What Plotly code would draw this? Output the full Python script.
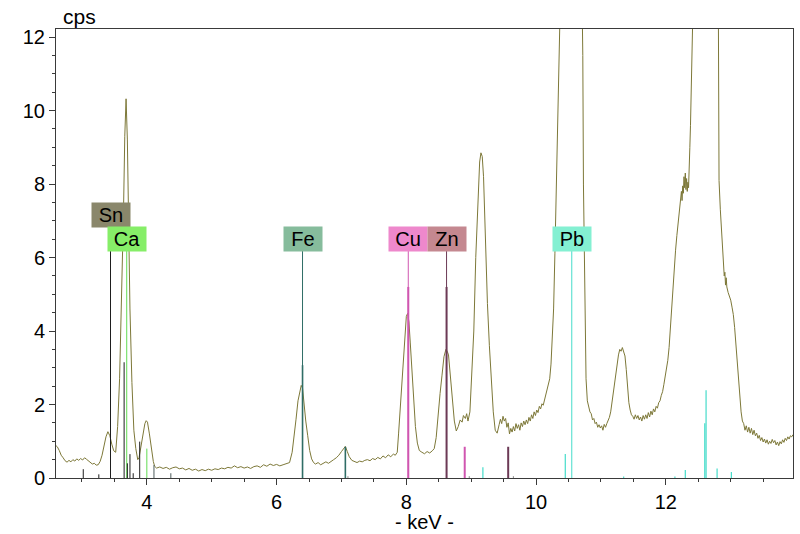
import plotly.graph_objects as go

# ---------------- data ----------------
# XRF spectrum: (energy keV, counts per second)
spectrum_points = [
    (2.60, 0.88), (2.62, 0.85), (2.65, 0.75), (2.68, 0.62), (2.71, 0.55), (2.74, 0.47), (2.77, 0.43),
    (2.80, 0.48), (2.83, 0.44), (2.86, 0.50), (2.89, 0.46), (2.92, 0.52), (2.95, 0.48), (2.98, 0.53),
    (3.01, 0.49), (3.04, 0.55), (3.07, 0.51), (3.10, 0.47), (3.13, 0.42), (3.16, 0.38), (3.19, 0.40),
    (3.22, 0.35), (3.25, 0.36), (3.28, 0.45), (3.31, 0.62), (3.34, 0.90), (3.37, 1.12), (3.40, 1.26),
    (3.43, 1.15), (3.46, 0.92), (3.49, 0.74), (3.52, 0.70), (3.55, 1.40), (3.58, 2.70), (3.60, 4.00),
    (3.62, 5.40), (3.64, 7.20), (3.66, 9.30), (3.68, 10.32), (3.70, 9.20), (3.72, 6.80), (3.74, 4.60),
    (3.77, 2.60), (3.80, 1.30), (3.83, 0.80), (3.86, 0.50), (3.88, 0.55), (3.91, 0.90), (3.94, 1.25),
    (3.97, 1.48), (3.99, 1.56), (4.01, 1.52), (4.04, 1.20), (4.07, 0.80), (4.10, 0.45), (4.12, 0.32),
    (4.15, 0.27), (4.20, 0.30), (4.25, 0.26), (4.30, 0.29), (4.35, 0.24), (4.40, 0.28), (4.45, 0.30),
    (4.50, 0.25), (4.55, 0.27), (4.60, 0.22), (4.65, 0.26), (4.70, 0.21), (4.75, 0.24), (4.80, 0.19),
    (4.85, 0.23), (4.90, 0.20), (4.95, 0.24), (5.00, 0.21), (5.05, 0.25), (5.10, 0.23), (5.15, 0.27),
    (5.20, 0.25), (5.25, 0.29), (5.30, 0.27), (5.35, 0.33), (5.40, 0.28), (5.45, 0.31), (5.50, 0.27),
    (5.55, 0.30), (5.60, 0.26), (5.65, 0.31), (5.70, 0.33), (5.75, 0.29), (5.80, 0.36), (5.85, 0.32),
    (5.90, 0.38), (5.95, 0.34), (6.00, 0.37), (6.05, 0.33), (6.10, 0.36), (6.15, 0.40), (6.20, 0.42),
    (6.24, 0.70), (6.27, 1.10), (6.30, 1.60), (6.33, 2.10), (6.36, 2.40), (6.38, 2.52), (6.40, 2.45),
    (6.42, 2.00), (6.45, 1.55), (6.48, 1.15), (6.51, 0.75), (6.54, 0.52), (6.57, 0.42), (6.60, 0.38),
    (6.64, 0.42), (6.68, 0.36), (6.72, 0.40), (6.76, 0.44), (6.80, 0.40), (6.84, 0.46), (6.88, 0.50),
    (6.92, 0.55), (6.96, 0.62), (7.00, 0.72), (7.04, 0.82), (7.06, 0.86), (7.09, 0.72), (7.12, 0.58),
    (7.16, 0.48), (7.20, 0.44), (7.24, 0.42), (7.28, 0.46), (7.32, 0.44), (7.36, 0.48), (7.40, 0.50),
    (7.44, 0.47), (7.48, 0.53), (7.52, 0.50), (7.56, 0.56), (7.60, 0.52), (7.64, 0.60), (7.68, 0.55),
    (7.72, 0.63), (7.76, 0.58), (7.80, 0.65), (7.83, 0.62), (7.86, 0.70), (7.88, 1.20), (7.91, 2.00),
    (7.94, 2.90), (7.97, 3.80), (8.00, 4.40), (8.02, 4.48), (8.04, 4.25), (8.06, 3.70), (8.08, 3.10),
    (8.10, 2.40), (8.12, 1.90), (8.14, 1.40), (8.17, 0.95), (8.20, 0.75), (8.24, 0.70), (8.28, 0.66),
    (8.32, 0.72), (8.36, 0.68), (8.40, 0.74), (8.43, 0.80), (8.46, 1.10), (8.49, 1.75), (8.52, 2.30),
    (8.55, 2.80), (8.58, 3.30), (8.61, 3.50), (8.63, 3.45), (8.65, 3.35), (8.68, 2.70), (8.71, 2.10),
    (8.74, 1.55), (8.77, 1.28), (8.80, 1.40), (8.83, 1.58), (8.86, 1.52), (8.88, 1.70), (8.91, 1.62),
    (8.93, 1.75), (8.95, 1.55), (8.98, 1.80), (9.01, 2.90), (9.04, 4.00), (9.07, 6.00), (9.10, 7.60),
    (9.13, 8.60), (9.15, 8.85), (9.17, 8.75), (9.19, 8.20), (9.21, 7.00), (9.23, 5.90), (9.25, 4.75),
    (9.28, 3.60), (9.31, 2.70), (9.34, 1.80), (9.37, 1.30), (9.40, 1.22), (9.43, 1.45), (9.45, 1.60),
    (9.47, 1.48), (9.49, 1.68), (9.51, 1.55), (9.53, 1.62), (9.55, 1.38), (9.57, 1.50), (9.59, 1.20),
    (9.61, 1.35), (9.63, 1.25), (9.65, 1.40), (9.67, 1.28), (9.69, 1.48), (9.71, 1.35), (9.73, 1.45),
    (9.75, 1.30), (9.77, 1.50), (9.79, 1.40), (9.81, 1.55), (9.83, 1.45), (9.85, 1.58), (9.87, 1.48),
    (9.89, 1.65), (9.91, 1.55), (9.93, 1.72), (9.95, 1.62), (9.97, 1.80), (9.99, 1.70), (10.01, 1.85),
    (10.03, 1.78), (10.05, 1.95), (10.07, 1.88), (10.09, 2.02), (10.11, 1.98), (10.13, 2.12),
    (10.15, 2.25), (10.17, 2.35), (10.19, 2.50), (10.21, 2.70), (10.23, 3.10), (10.25, 3.70),
    (10.27, 4.60), (10.29, 6.10), (10.30, 7.40), (10.31, 8.90), (10.32, 11.0), (10.34, 14.0),
    (10.40, 18.0), (10.47, 21.0), (10.55, 22.0), (10.62, 21.0), (10.68, 17.0), (10.71, 13.0),
    (10.72, 11.5), (10.73, 8.00), (10.75, 4.30), (10.77, 2.70), (10.79, 2.10), (10.81, 1.95),
    (10.83, 1.80), (10.85, 1.75), (10.87, 1.58), (10.89, 1.62), (10.91, 1.48), (10.93, 1.52),
    (10.95, 1.38), (10.97, 1.45), (10.99, 1.36), (11.01, 1.42), (11.03, 1.30), (11.05, 1.46),
    (11.07, 1.38), (11.09, 1.48), (11.11, 1.55), (11.13, 1.65), (11.15, 1.80), (11.17, 2.05),
    (11.19, 2.35), (11.21, 2.65), (11.23, 2.95), (11.25, 3.15), (11.27, 3.35), (11.29, 3.50),
    (11.31, 3.45), (11.33, 3.55), (11.35, 3.40), (11.37, 3.32), (11.39, 2.95), (11.41, 2.45),
    (11.43, 2.05), (11.45, 1.85), (11.47, 1.72), (11.49, 1.68), (11.51, 1.60), (11.53, 1.72),
    (11.55, 1.62), (11.57, 1.70), (11.59, 1.58), (11.61, 1.66), (11.63, 1.55), (11.65, 1.70),
    (11.67, 1.60), (11.69, 1.72), (11.71, 1.62), (11.73, 1.78), (11.75, 1.66), (11.77, 1.82),
    (11.79, 1.72), (11.81, 1.88), (11.83, 1.80), (11.85, 1.95), (11.87, 1.90), (11.89, 2.05),
    (11.91, 2.10), (11.93, 2.25), (11.95, 2.35), (11.97, 2.55), (11.99, 2.75), (12.01, 2.90),
    (12.03, 3.20), (12.05, 3.55), (12.07, 4.10), (12.09, 4.80), (12.11, 5.40), (12.13, 5.80),
    (12.15, 6.20), (12.17, 6.60), (12.19, 6.90), (12.21, 7.30), (12.23, 7.55), (12.24, 7.80),
    (12.25, 7.55), (12.26, 7.95), (12.27, 7.75), (12.28, 8.20), (12.29, 7.90), (12.30, 8.30),
    (12.31, 7.85), (12.32, 8.15), (12.33, 7.80), (12.34, 8.05), (12.35, 7.90), (12.36, 8.30),
    (12.37, 9.00), (12.38, 9.60), (12.39, 10.8), (12.40, 12.5), (12.45, 15.5), (12.52, 17.5),
    (12.60, 18.5), (12.68, 17.5), (12.75, 15.5), (12.81, 12.5), (12.82, 8.10), (12.84, 7.30),
    (12.86, 6.66), (12.88, 6.00), (12.90, 5.50), (12.91, 5.60), (12.92, 5.25), (12.93, 5.45),
    (12.94, 5.20), (12.96, 5.05), (12.98, 4.95), (13.00, 4.84), (13.02, 4.65), (13.04, 4.45),
    (13.06, 4.10), (13.08, 3.65), (13.10, 3.20), (13.12, 2.60), (13.14, 2.10), (13.16, 1.80),
    (13.18, 1.55), (13.20, 1.48), (13.22, 1.30), (13.24, 1.42), (13.26, 1.25), (13.28, 1.38),
    (13.30, 1.22), (13.32, 1.35), (13.34, 1.18), (13.36, 1.30), (13.38, 1.15), (13.40, 1.22),
    (13.42, 1.08), (13.44, 1.16), (13.46, 1.02), (13.48, 1.10), (13.50, 0.98), (13.52, 1.06),
    (13.54, 0.95), (13.56, 1.04), (13.58, 0.92), (13.60, 1.00), (13.62, 0.94), (13.64, 1.05),
    (13.66, 0.96), (13.68, 1.02), (13.70, 0.90), (13.72, 0.98), (13.74, 0.88), (13.76, 0.99),
    (13.78, 0.93), (13.80, 1.04), (13.82, 0.97), (13.84, 1.08), (13.86, 1.02), (13.88, 1.12),
    (13.90, 1.06), (13.92, 1.15), (13.94, 1.12), (13.96, 1.18),
]
energy_kev = [p[0] for p in spectrum_points]
counts_cps = [p[1] for p in spectrum_points]

# identified elements: label line energy
elements = ["Sn", "Ca", "Fe", "Cu", "Zn", "Pb"]
label_energy = [3.44, 3.69, 6.40, 8.03, 8.62, 10.55]
label_line_top = 6.18

# emission-line sticks (energy keV, relative height in cps units)
sn_lines_e = [3.02, 3.26, 3.65, 3.70, 3.74, 3.79, 3.89]
sn_lines_h = [0.24, 0.10, 3.15, 0.40, 0.65, 0.13, 0.99]
sn_minor_e = [4.11, 4.37]
sn_minor_h = [0.35, 0.13]
ca_lines_e = [4.00]
ca_lines_h = [0.80]
fe_lines_e = [6.40, 7.06]
fe_lines_h = [3.07, 0.85]
cu_lines_e = [8.03, 8.90]
cu_lines_h = [5.20, 0.85]
zn_lines_e = [8.62, 9.57]
zn_lines_h = [5.20, 0.85]
pb_lines_e = [9.18, 10.45, 11.35, 12.14, 12.30, 12.60, 12.62, 12.79, 13.01]
pb_lines_h = [0.29, 0.65, 0.04, 0.04, 0.22, 1.49, 2.39, 0.26, 0.16]
tiny_lines_e = [7.10, 8.97, 9.65]
tiny_lines_h = [0.05, 0.05, 0.05]

x_ticks = [4, 6, 8, 10, 12]
y_ticks = [0, 2, 4, 6, 8, 10, 12]

# ---------------- style ----------------
FONT = "Liberation Sans, Arial, sans-serif"
spec_color = "#7d7838"
line_colors = {"Sn": "#1e1e1e", "Ca": "#62dc52", "Fe": "#2f6d66", "Cu": "#d056b0",
               "Zn": "#6c3a56", "Pb": "#45dcca"}
box_colors = {"Sn": "#8a876b", "Ca": "#86ee68", "Fe": "#86bc9c", "Cu": "#ee88cc",
              "Zn": "#c48890", "Pb": "#84f0d2"}
label_y = {"Sn": 7.16, "Ca": 6.51, "Fe": 6.51, "Cu": 6.51, "Zn": 6.51, "Pb": 6.51}


def sticks(es, hs):
    xs, ys = [], []
    for e, h in zip(es, hs):
        xs += [e, e, None]
        ys += [0, h, None]
    return xs, ys


fig = go.Figure()
fig.add_trace(go.Scatter(x=energy_kev, y=counts_cps, mode="lines",
                         line=dict(color=spec_color, width=1), hoverinfo="skip"))

# label lines
for el, e in zip(elements, label_energy):
    xs, ys = sticks([e], [label_line_top])
    fig.add_trace(go.Scatter(x=xs, y=ys, mode="lines",
                             line=dict(color=line_colors[el], width=1), hoverinfo="skip"))

stick_sets = [
    (sn_lines_e, sn_lines_h, line_colors["Sn"], 1),
    (sn_minor_e, sn_minor_h, "#4d5c5c", 1),
    (ca_lines_e, ca_lines_h, line_colors["Ca"], 1),
    (fe_lines_e, fe_lines_h, line_colors["Fe"], 1.6),
    (cu_lines_e, cu_lines_h, line_colors["Cu"], 2),
    (zn_lines_e, zn_lines_h, line_colors["Zn"], 2),
    (pb_lines_e, pb_lines_h, line_colors["Pb"], 1.2),
    (tiny_lines_e, tiny_lines_h, "#888888", 1),
]
for es, hs, c, w in stick_sets:
    xs, ys = sticks(es, hs)
    fig.add_trace(go.Scatter(x=xs, y=ys, mode="lines",
                             line=dict(color=c, width=w), hoverinfo="skip"))

annotations = []
for el, e in zip(elements, label_energy):
    annotations.append(dict(x=e, y=label_y[el], xref="x", yref="y", text=el, showarrow=False,
                            font=dict(family=FONT, size=20, color="#000000"),
                            bgcolor=box_colors[el], width=36, height=22, borderpad=1,
                            xanchor="center", yanchor="middle"))
annotations.append(dict(x=0.008, y=1.027, xref="paper", yref="paper", text="cps",
                        showarrow=False, xanchor="left", yanchor="middle", borderpad=0,
                        font=dict(family=FONT, size=21, color="#000000")))
annotations.append(dict(x=0.5, y=-0.099, xref="paper", yref="paper", text="- keV -",
                        showarrow=False, xanchor="center", yanchor="middle", borderpad=0,
                        font=dict(family=FONT, size=20, color="#000000")))

axis_common = dict(showgrid=False, zeroline=False, showline=True, mirror=True,
                   linecolor="#3a3a3a", linewidth=1, ticks="outside", ticklen=6,
                   tickcolor="#3a3a3a", tickwidth=1,
                   tickfont=dict(family=FONT, size=20, color="#000000"))

# plot area at x 56..793, y 29..478 of the 800x534 window
fig.update_layout(
    width=800, height=534,
    margin=dict(l=56, r=7, t=29, b=56),
    paper_bgcolor="white", plot_bgcolor="white",
    showlegend=False,
    annotations=annotations,
    xaxis=dict(range=[2.6, 13.96], tickvals=x_ticks, ticktext=[str(v) for v in x_ticks],
               minor=dict(dtick=0.5, tick0=0, ticks="outside", ticklen=3, tickcolor="#3a3a3a"),
               **axis_common),
    yaxis=dict(range=[0, 12.22], tickvals=y_ticks, ticktext=[str(v) for v in y_ticks],
               minor=dict(dtick=0.5, tick0=0, ticks="outside", ticklen=3, tickcolor="#3a3a3a"),
               **axis_common),
)

# remove the browser's default 8px page margin so the figure fills the window exactly
fig.write_html("out.html", config={"displayModeBar": False},
               post_script="document.body.style.margin='0px';")
